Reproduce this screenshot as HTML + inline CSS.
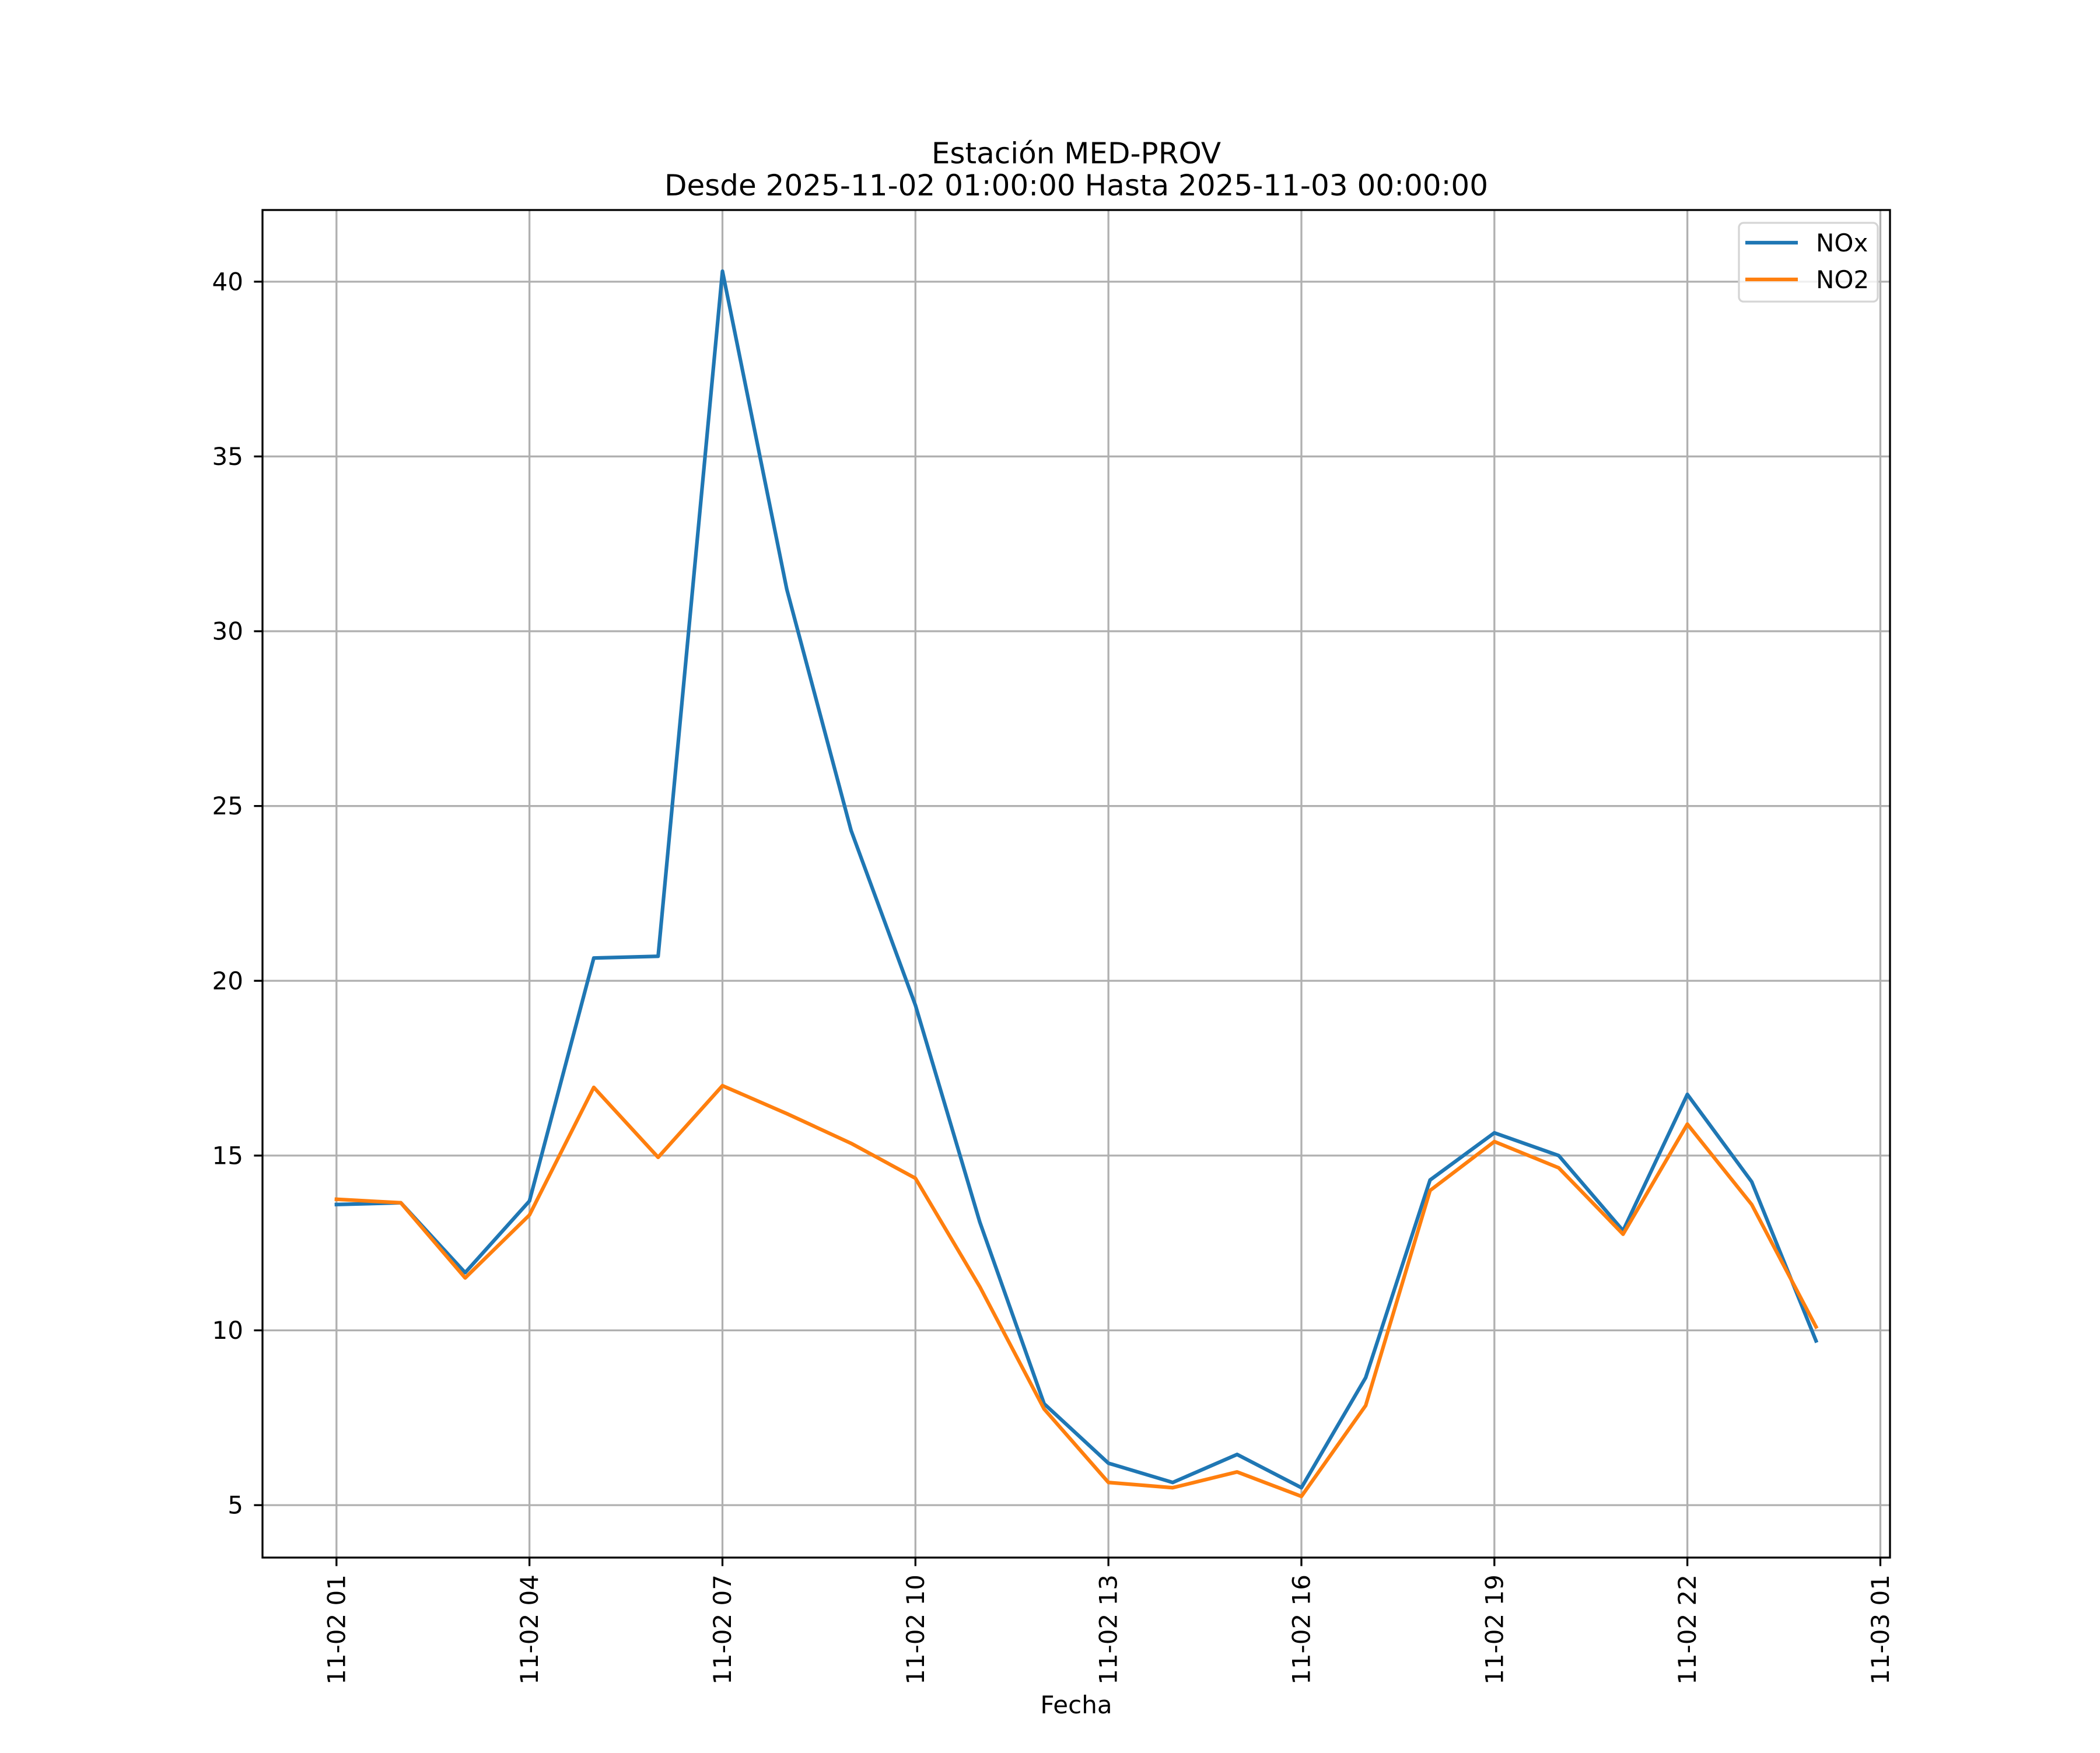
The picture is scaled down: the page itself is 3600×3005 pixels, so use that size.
<!DOCTYPE html>
<html><head><meta charset="utf-8"><style>
html,body{margin:0;padding:0;background:#fff;}
svg text{font-family:"DejaVu Sans","Liberation Sans",sans-serif;fill:#000;}
</style></head><body>
<svg id="chart" xmlns="http://www.w3.org/2000/svg" width="3600" height="3000" viewBox="0 0 3600 3000">
<rect width="3600" height="3000" fill="#fff"/>
<g id="grid"></g>
<g id="series"></g>
<g id="axes"></g>
<text x="1845" y="280" font-size="50" text-anchor="middle">Estación MED-PROV</text>
<text x="1845" y="335" font-size="50" text-anchor="middle">Desde 2025-11-02 01:00:00 Hasta 2025-11-03 00:00:00</text>
<text x="1845" y="2937" font-size="42" text-anchor="middle">Fecha</text>
<g>
<rect x="2981" y="382" width="238" height="135" rx="8" fill="#fff" fill-opacity="0.8" stroke="#d5d5d5" stroke-width="3.3"/>
<line x1="2992" y1="416" x2="3082" y2="416" stroke="#1f77b4" stroke-width="6.25"/>
<text x="3113" y="431" font-size="42">NOx</text>
<line x1="2992" y1="479" x2="3082" y2="479" stroke="#ff7f0e" stroke-width="6.25"/>
<text x="3113" y="494" font-size="42">NO2</text>
</g>
</svg>
<script>
const hours = [0,1,2,3,4,5,6,7,8,9,10,11,12,13,14,15,16,17,18,19,20,21,22,23];
const noxValues = [13.6,13.65,11.65,13.7,20.65,20.7,40.3,31.2,24.3,19.3,13.1,7.9,6.2,5.65,6.45,5.5,8.65,14.3,15.65,15.0,12.85,16.75,14.25,9.7];
const no2Values = [13.75,13.65,11.5,13.3,16.95,14.95,17.0,16.2,15.35,14.35,11.25,7.75,5.65,5.5,5.95,5.25,7.85,14.0,15.4,14.65,12.75,15.9,13.6,10.1];
const xTickHours = [0,3,6,9,12,15,18,21,24];
const xTickLabels = ["11-02 01","11-02 04","11-02 07","11-02 10","11-02 13","11-02 16","11-02 19","11-02 22","11-03 01"];
const yTicks = [5,10,15,20,25,30,35,40];

const L=450,R=3240,T=360,B=2670;
const xMin=-1.15,xMax=24.15,yMin=3.5,yMax=42.05;
const xs=v=>L+(v-xMin)/(xMax-xMin)*(R-L);
const ys=v=>B-(v-yMin)/(yMax-yMin)*(B-T);
const NS="http://www.w3.org/2000/svg";
function mk(tag,attrs,parent){const e=document.createElementNS(NS,tag);for(const k in attrs)e.setAttribute(k,attrs[k]);parent.appendChild(e);return e;}
const grid=document.getElementById('grid'),axes=document.getElementById('axes'),series=document.getElementById('series');

xTickHours.forEach((h,i)=>{
  const x=xs(h);
  const g=mk('line',{x1:x,y1:T,x2:x,y2:B,stroke:'#b0b0b0','stroke-width':3.3},grid);
  
  
  const t=mk('line',{x1:x,y1:B,x2:x,y2:B+14.6,stroke:'#000','stroke-width':3.3},axes);
  
  
  const lb=mk('text',{x:0,y:0,'font-size':42,'text-anchor':'end','dominant-baseline':'central',transform:`translate(${x},${B+29}) rotate(-90)`},axes);
  lb.textContent=xTickLabels[i];
  
  
});
yTicks.forEach(v=>{
  const y=ys(v);
  const g=mk('line',{x1:L,y1:y,x2:R,y2:y,stroke:'#b0b0b0','stroke-width':3.3},grid);
  
  
  const t=mk('line',{x1:L-14.6,y1:y,x2:L,y2:y,stroke:'#000','stroke-width':3.3},axes);
  
  
  const lb=mk('text',{x:L-33,y:y,'font-size':42,'text-anchor':'end','dominant-baseline':'central'},axes);
  lb.textContent=String(v);
  
  
});
function drawLine(vals,color,name){
  const d=vals.map((v,i)=>(i?'L':'M')+xs(hours[i]).toFixed(1)+','+ys(v).toFixed(1)).join(' ');
  const p=mk('path',{d:d,fill:'none',stroke:color,'stroke-width':6.25,'stroke-linejoin':'round','stroke-linecap':'square'},series);
  
  
}
drawLine(noxValues,'#1f77b4','nox-line');
drawLine(no2Values,'#ff7f0e','no2-line');
const fr=mk('rect',{x:L,y:T,width:R-L,height:B-T,fill:'none',stroke:'#000','stroke-width':3.3},axes);


</script>
</body></html>
